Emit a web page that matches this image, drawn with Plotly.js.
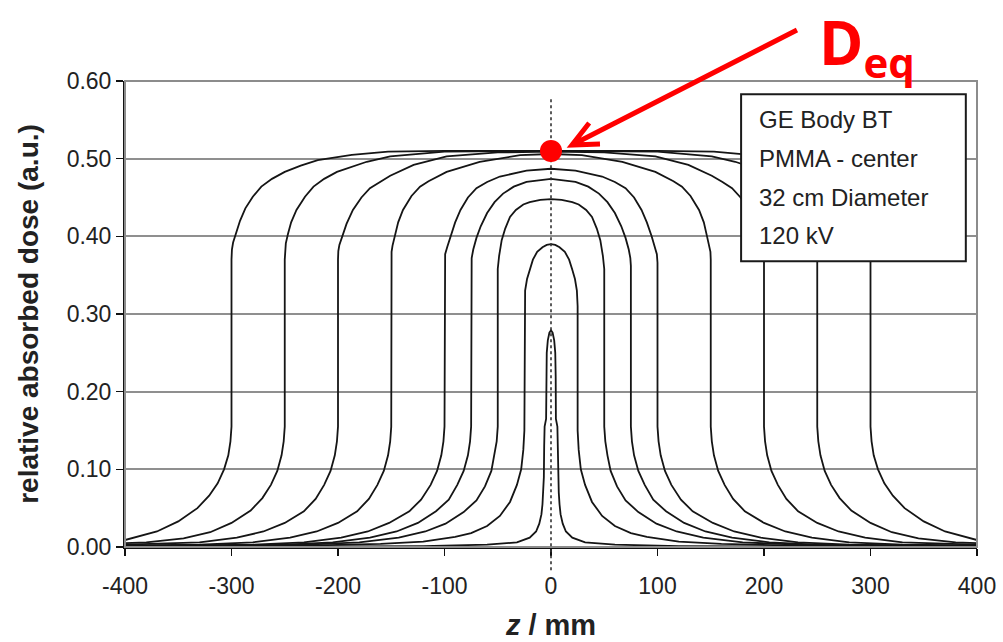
<!DOCTYPE html>
<html>
<head>
<meta charset="utf-8">
<script src="https://cdn.plot.ly/plotly-3.0.1.min.js"></script>
<style>
  html, body { margin: 0; padding: 0; background: #ffffff; }
  #chart { width: 1003px; height: 642px; }
</style>
</head>
<body>
<div id="chart"></div>
<script>
// ---- Data (right half of each symmetric dose profile; z in mm, dose in a.u.) ----
const z300 = [0, 100, 153, 187, 219, 235, 250, 262, 272, 280, 287, 292, 296, 298.5, 299.6, 300, 300, 301, 303, 307, 313, 321, 332, 350, 370, 395, 400];
const d300 = [0.510, 0.510, 0.509, 0.505, 0.498, 0.491, 0.483, 0.474, 0.464, 0.451, 0.436, 0.420, 0.404, 0.392, 0.383, 0.370, 0.155, 0.136, 0.118, 0.100, 0.082, 0.066, 0.050, 0.033, 0.020, 0.011, 0.009];

const z250 = [0, 100, 151, 173, 201, 213, 223, 231, 239, 244, 247, 249, 249.7, 250, 250, 251, 253, 257, 263, 271, 282, 300, 320, 345, 380, 400];
const d250 = [0.510, 0.509, 0.503, 0.496, 0.483, 0.474, 0.464, 0.451, 0.434, 0.418, 0.403, 0.391, 0.382, 0.370, 0.155, 0.136, 0.118, 0.098, 0.080, 0.063, 0.047, 0.031, 0.019, 0.011, 0.006, 0.005];

const z200 = [0, 50, 98, 129, 151, 161, 170, 178, 186, 192, 196, 198.7, 199.7, 200, 200, 201, 203, 207, 213, 221, 232, 250, 270, 295, 330, 370, 400];
const d200 = [0.509, 0.508, 0.503, 0.492, 0.478, 0.470, 0.462, 0.450, 0.434, 0.416, 0.400, 0.389, 0.381, 0.370, 0.155, 0.136, 0.118, 0.098, 0.080, 0.062, 0.046, 0.031, 0.020, 0.012, 0.006, 0.004, 0.003];

const z150 = [0, 29, 67, 98, 115, 123, 131, 139, 143.5, 146.5, 148.8, 149.7, 150, 150, 151, 153, 157, 163, 171, 182, 200, 220, 245, 280, 330, 400];
const d150 = [0.506, 0.5045, 0.496, 0.483, 0.471, 0.464, 0.452, 0.434, 0.418, 0.400, 0.388, 0.380, 0.370, 0.155, 0.136, 0.118, 0.098, 0.080, 0.062, 0.046, 0.031, 0.020, 0.012, 0.006, 0.003, 0.002];

const z100 = [0, 23, 48, 60, 70, 78, 85, 90, 94.5, 97.5, 99.4, 100, 100, 101, 103, 107, 113, 122, 133, 152, 172, 197, 232, 280, 340, 400];
const d100 = [0.487, 0.4845, 0.477, 0.470, 0.462, 0.450, 0.434, 0.418, 0.400, 0.386, 0.377, 0.366, 0.155, 0.136, 0.118, 0.098, 0.080, 0.061, 0.046, 0.031, 0.020, 0.012, 0.006, 0.003, 0.002, 0.001];

const z75 = [0, 23, 35, 45, 53, 60, 66, 70, 73, 74.5, 75, 75, 76, 78, 82, 88, 96, 108, 125, 145, 170, 205, 250, 320, 400];
const d75 = [0.474, 0.470, 0.464, 0.455, 0.444, 0.430, 0.413, 0.398, 0.383, 0.372, 0.362, 0.155, 0.136, 0.118, 0.098, 0.080, 0.061, 0.046, 0.031, 0.020, 0.012, 0.006, 0.003, 0.002, 0.001];

const z50 = [0, 10, 20, 26, 33, 38.5, 43, 46.3, 48.7, 50, 50, 51, 53, 56, 62, 70, 82, 99, 118, 143, 180, 230, 300, 400];
const d50 = [0.448, 0.447, 0.444, 0.441, 0.434, 0.425, 0.410, 0.395, 0.375, 0.358, 0.155, 0.136, 0.118, 0.098, 0.078, 0.060, 0.045, 0.030, 0.020, 0.012, 0.006, 0.003, 0.0015, 0.001];

const z25 = [0, 4, 8, 13, 17, 20, 22.5, 24.3, 25, 25, 26, 28, 32, 38.5, 48, 60, 75, 90, 120, 160, 220, 300, 400];
const d25 = [0.390, 0.389, 0.386, 0.380, 0.370, 0.357, 0.345, 0.330, 0.310, 0.150, 0.125, 0.100, 0.080, 0.058, 0.040, 0.027, 0.018, 0.013, 0.007, 0.004, 0.002, 0.001, 0.0005];

const z5 = [0, 1.5, 3, 4, 4.4, 4.6, 6, 6.4, 6.7, 7.3, 8, 9, 11, 14, 20, 32, 60, 120, 250, 400];
const d5 = [0.279, 0.276, 0.266, 0.250, 0.220, 0.165, 0.155, 0.130, 0.090, 0.070, 0.055, 0.042, 0.030, 0.020, 0.012, 0.006, 0.003, 0.001, 0.0005, 0];

const profilesZ = [z300, z250, z200, z150, z100, z75, z50, z25, z5];
const profilesD = [d300, d250, d200, d150, d100, d75, d50, d25, d5];
const profileNames = ['300 mm', '250 mm', '200 mm', '150 mm', '100 mm', '75 mm', '50 mm', '25 mm', '5 mm'];

// Equilibrium dose point
const deqZ = [0];
const deqD = [0.51];

// Axis ticks
const xTicks = [-400, -300, -200, -100, 0, 100, 200, 300, 400];
const yTicks = [0.00, 0.10, 0.20, 0.30, 0.40, 0.50, 0.60];
const yTickText = ['0.00', '0.10', '0.20', '0.30', '0.40', '0.50', '0.60'];

// Info box lines
const infoLines = ['GE Body BT', 'PMMA - center', '32 cm Diameter', '120 kV'];

// ---- Build symmetric traces ----
const traces = profilesZ.map((zs, i) => {
  const ds = profilesD[i];
  const x = [], y = [];
  for (let k = zs.length - 1; k >= 1; k--) { x.push(-zs[k]); y.push(ds[k]); }
  for (let k = 0; k < zs.length; k++) { x.push(zs[k]); y.push(ds[k]); }
  return {
    type: 'scatter', mode: 'lines', x: x, y: y, name: profileNames[i],
    line: { color: '#151515', width: 1.8, shape: 'linear' },
    hoverinfo: 'x+y', showlegend: false
  };
});

const font = 'Liberation Sans, Arial, sans-serif';

const shapes = [
  // gray frame (top & right)
  { type: 'rect', xref: 'paper', yref: 'paper', x0: 0, x1: 1, y0: 0, y1: 1,
    line: { color: '#8c8c8c', width: 2 }, fillcolor: 'rgba(0,0,0,0)', layer: 'above' },
  // dashed centre line
  { type: 'line', xref: 'x', yref: 'paper', x0: 0, x1: 0, y0: -0.05, y1: 0.967,
    line: { color: '#333333', width: 1.6, dash: 'dot' }, layer: 'above' },
  // info box
  { type: 'rect', xref: 'x', yref: 'y', x0: 178.5, x1: 389.5, y0: 0.368, y1: 0.583,
    line: { color: '#1a1a1a', width: 2 }, fillcolor: '#ffffff', layer: 'above' },
  // red arrow (shaft + open head)
  { type: 'path', xref: 'paper', yref: 'paper',
    path: 'M 0.7887 1.1094 L 0.5246 0.8627 M 0.5575 0.8648 L 0.5246 0.8627 L 0.5448 0.9099',
    line: { color: '#ff0000', width: 5 }, layer: 'above' },
  // D_eq red dot
  { type: 'circle', xref: 'x', yref: 'y', xsizemode: 'pixel', ysizemode: 'pixel',
    xanchor: deqZ[0], yanchor: deqD[0], x0: -11, x1: 11, y0: -11, y1: 11,
    fillcolor: '#ff0000', line: { color: '#ff0000', width: 0 }, layer: 'above' }
];

const annotations = infoLines.map((t, i) => ({
  xref: 'x', yref: 'y', x: 193, y: 0.5498 - i * 0.0496, text: t,
  showarrow: false, xanchor: 'left', yanchor: 'middle',
  font: { family: font, size: 24, color: '#222222' }
}));
annotations.push({
  xref: 'paper', yref: 'paper', x: 0.812, y: 1.176, xanchor: 'left', yanchor: 'top',
  text: '<b>D<sub>eq</sub></b>', showarrow: false,
  font: { family: 'Open Sans, Noto Sans, sans-serif', size: 60, color: '#ff0000' }
});

const layout = {
  width: 1003, height: 642,
  margin: { l: 125, r: 26, t: 81, b: 95, autoexpand: false },
  paper_bgcolor: '#ffffff', plot_bgcolor: '#ffffff',
  showlegend: false,
  xaxis: {
    range: [-400, 400], tickvals: xTicks, ticktext: xTicks.map(String),
    showgrid: false, zeroline: false,
    showline: true, linecolor: '#111111', linewidth: 2,
    ticks: 'outside', ticklen: 7, tickwidth: 1.5, tickcolor: '#111111',
    tickfont: { family: font, size: 23, color: '#222222' },
    ticklabelstandoff: 10,
    automargin: true,
    title: { text: '<b><i>z</i> / mm</b>', font: { family: font, size: 29, color: '#222222' }, standoff: 17 }
  },
  yaxis: {
    range: [0, 0.6], tickvals: yTicks, ticktext: yTickText,
    showgrid: true, gridcolor: '#8f8f8f', gridwidth: 2, zeroline: false,
    showline: true, linecolor: '#111111', linewidth: 2,
    ticks: 'outside', ticklen: 7, tickwidth: 1.5, tickcolor: '#111111',
    tickfont: { family: font, size: 23, color: '#222222' },
    automargin: true,
    title: { text: '<b>relative absorbed dose (a.u.)</b>', font: { family: font, size: 28, color: '#222222' }, standoff: 20 }
  },
  shapes: shapes,
  annotations: annotations
};

Plotly.newPlot('chart', traces, layout, { displayModeBar: false, staticPlot: true });
</script>
</body>
</html>
